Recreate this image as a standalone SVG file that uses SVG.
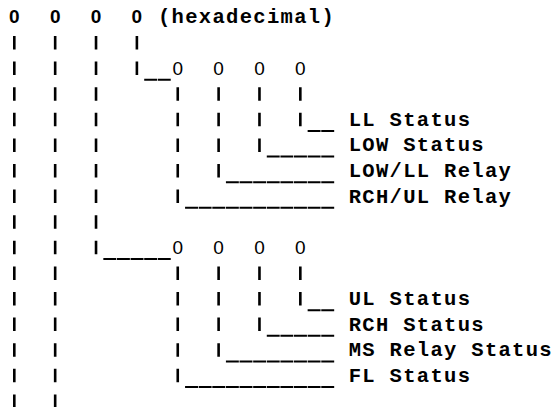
<svg xmlns="http://www.w3.org/2000/svg" width="553" height="407" viewBox="0 0 553 407">
  <style>
    .lbl { font-family: "Liberation Mono", "DejaVu Sans Mono", monospace; font-weight: bold; font-size: 20.5px; letter-spacing: 1.32px; fill: #000; }
    .z0 { font-family: "Liberation Sans", "DejaVu Sans", sans-serif; font-weight: bold; font-size: 19px; fill: #000; text-anchor: middle; }
    .z1 { font-family: "Liberation Sans", "DejaVu Sans", sans-serif; font-weight: normal; font-size: 19px; fill: #000; text-anchor: middle; }
    .pipe { fill: none; stroke: #000; stroke-width: 2.6; stroke-dasharray: 13.5 12.1; }
    .bar { fill: none; stroke: #000; stroke-width: 2; stroke-dasharray: 12.92 0.7; }
  </style>
  <rect width="553" height="407" fill="#fff"/>

  <g id="connectors">
    <!-- top-level digit 1 and 2: continuing down -->
    <path class="pipe" d="M14.31 36 V408"/>
    <path class="pipe" d="M55.17 36 V408"/>
    <!-- top-level digit 3 to high group -->
    <path class="pipe" d="M96.03 36 V254.3"/>
    <path class="bar" d="M103.34 259 H170.94"/>
    <!-- top-level digit 4 to low group -->
    <path class="pipe" d="M136.89 36 V75.1"/>
    <path class="bar" d="M144.2 79.8 H170.94"/>
    <!-- low group -->
    <path class="pipe" d="M300.33 87.2 V126.3"/>
    <path class="bar" d="M307.64 131 H334.38"/>
    <path class="pipe" d="M259.47 87.2 V151.9"/>
    <path class="bar" d="M266.78 156.6 H334.38"/>
    <path class="pipe" d="M218.61 87.2 V177.5"/>
    <path class="bar" d="M225.92 182.2 H334.38"/>
    <path class="pipe" d="M177.75 87.2 V203.1"/>
    <path class="bar" d="M185.06 207.8 H334.38"/>
    <!-- high group -->
    <path class="pipe" d="M300.33 266.4 V305.5"/>
    <path class="bar" d="M307.64 310.2 H334.38"/>
    <path class="pipe" d="M259.47 266.4 V331.1"/>
    <path class="bar" d="M266.78 335.8 H334.38"/>
    <path class="pipe" d="M218.61 266.4 V356.7"/>
    <path class="bar" d="M225.92 361.4 H334.38"/>
    <path class="pipe" d="M177.75 266.4 V382.3"/>
    <path class="bar" d="M185.06 387 H334.38"/>
  </g>

  <g id="root">
    <text class="z0" x="14.31" y="23.4">0</text>
    <text class="z0" x="55.17" y="23.4">0</text>
    <text class="z0" x="96.03" y="23.4">0</text>
    <text class="z0" x="136.89" y="23.4">0</text>
    <text class="lbl" x="157.98" y="23.4">(hexadecimal)</text>
  </g>

  <g id="low-nibble">
    <text class="z1" x="177.75" y="74.6">0</text>
    <text class="z1" x="218.61" y="74.6">0</text>
    <text class="z1" x="259.47" y="74.6">0</text>
    <text class="z1" x="300.33" y="74.6">0</text>
  </g>
  <g id="ll-status"><text class="lbl" x="348.66" y="125.8">LL Status</text></g>
  <g id="low-status"><text class="lbl" x="348.66" y="151.4">LOW Status</text></g>
  <g id="low-ll-relay"><text class="lbl" x="348.66" y="177">LOW/LL Relay</text></g>
  <g id="rch-ul-relay"><text class="lbl" x="348.66" y="202.6">RCH/UL Relay</text></g>

  <g id="high-nibble">
    <text class="z1" x="177.75" y="253.8">0</text>
    <text class="z1" x="218.61" y="253.8">0</text>
    <text class="z1" x="259.47" y="253.8">0</text>
    <text class="z1" x="300.33" y="253.8">0</text>
  </g>
  <g id="ul-status"><text class="lbl" x="348.66" y="305">UL Status</text></g>
  <g id="rch-status"><text class="lbl" x="348.66" y="330.6">RCH Status</text></g>
  <g id="ms-relay-status"><text class="lbl" x="348.66" y="356.2">MS Relay Status</text></g>
  <g id="fl-status"><text class="lbl" x="348.66" y="381.8">FL Status</text></g>
</svg>
